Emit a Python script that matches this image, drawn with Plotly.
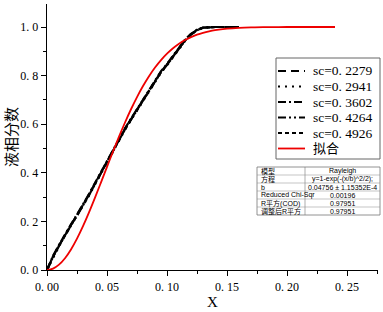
import plotly.graph_objects as go

# ---------------- data ----------------
x_black = [0, 0.005, 0.01, 0.015, 0.02, 0.025, 0.03, 0.035, 0.04, 0.045, 0.05, 0.055, 0.06,
           0.065, 0.07, 0.075, 0.08, 0.085, 0.09, 0.095, 0.10, 0.105, 0.11, 0.115, 0.12,
           0.125, 0.13, 0.135, 0.14, 0.15, 0.16]
y_sc_2279 = [0, 0.055, 0.100, 0.145, 0.185, 0.225, 0.265, 0.310, 0.355, 0.400, 0.445, 0.495, 0.540,
             0.580, 0.620, 0.660, 0.700, 0.740, 0.780, 0.815, 0.845, 0.880, 0.915, 0.945, 0.970,
             0.988, 0.997, 1.000, 1.000, 1.000, 1.000]
y_sc_2941 = [0, 0.052, 0.097, 0.142, 0.182, 0.222, 0.262, 0.306, 0.352, 0.397, 0.442, 0.491, 0.536,
             0.577, 0.617, 0.657, 0.697, 0.737, 0.777, 0.812, 0.842, 0.877, 0.912, 0.942, 0.968,
             0.986, 0.996, 1.000, 1.000, 1.000, 1.000]
y_sc_3602 = [0, 0.058, 0.103, 0.148, 0.188, 0.228, 0.268, 0.313, 0.358, 0.403, 0.448, 0.498, 0.543,
             0.583, 0.623, 0.663, 0.703, 0.743, 0.783, 0.818, 0.848, 0.883, 0.918, 0.948, 0.972,
             0.989, 0.998, 1.000, 1.000, 1.000, 1.000]
y_sc_4264 = [0, 0.054, 0.099, 0.144, 0.184, 0.224, 0.264, 0.308, 0.354, 0.399, 0.444, 0.493, 0.538,
             0.579, 0.619, 0.659, 0.699, 0.739, 0.779, 0.814, 0.844, 0.879, 0.914, 0.944, 0.969,
             0.987, 0.997, 1.000, 1.000, 1.000, 1.000]
y_sc_4926 = [0, 0.056, 0.101, 0.146, 0.186, 0.226, 0.266, 0.311, 0.356, 0.401, 0.446, 0.496, 0.541,
             0.581, 0.621, 0.661, 0.701, 0.741, 0.781, 0.816, 0.846, 0.881, 0.916, 0.946, 0.971,
             0.988, 0.997, 1.000, 1.000, 1.000, 1.000]

x_fit = [0, 0.005, 0.01, 0.015, 0.02, 0.025, 0.03, 0.035, 0.04, 0.045, 0.05, 0.055, 0.06, 0.065,
         0.07, 0.075, 0.08, 0.085, 0.09, 0.095, 0.10, 0.105, 0.11, 0.115, 0.12, 0.125, 0.13,
         0.135, 0.14, 0.15, 0.16, 0.17, 0.18, 0.20, 0.22, 0.24]
y_fit = [0, 0.0055, 0.0219, 0.0485, 0.0846, 0.1290, 0.1804, 0.2372, 0.2979, 0.3609, 0.4245,
         0.4876, 0.5488, 0.6070, 0.6615, 0.7116, 0.7570, 0.7975, 0.8331, 0.8640, 0.8903,
         0.9126, 0.9311, 0.9463, 0.9585, 0.9684, 0.9761, 0.9822, 0.9869, 0.9931, 0.9965,
         0.9983, 0.9992, 0.9999, 1.0, 1.0]

series_names = ["sc=0. 2279", "sc=0. 2941", "sc=0. 3602", "sc=0. 4264", "sc=0. 4926"]
fit_name = "拟合"

x_tickvals = [0, 0.05, 0.10, 0.15, 0.20, 0.25]
x_ticktext = ["0. 00", "0. 05", "0. 10", "0. 15", "0. 20", "0. 25"]
y_tickvals = [0, 0.2, 0.4, 0.6, 0.8, 1.0]
y_ticktext = ["0. 0", "0. 2", "0. 4", "0. 6", "0. 8", "1. 0"]

table_labels = ["模型", "方程", "b", "Reduced Chi-Sqr", "R平方(COD)", "调整后R平方"]
table_values = ["Rayleigh", "y=1-exp(-(x/b)^2/2);", "0.04756 ± 1.15352E-4",
                "0.00196", "0.97951", "0.97951"]

x_title = "X"
y_title = "液相分数"

# ---------------- figure ----------------
W, H = 383, 312
ML, MR, MT, MB = 47, 5, 4, 42
PW, PH = W - ML - MR, H - MT - MB

def px(xp):
    return (xp - ML) / PW

def py(yp):
    return (H - MB - yp) / PH

serif = "Liberation Serif, Noto Sans CJK SC, serif"

fig = go.Figure()
dashes = ["8px,5px", "2px,5px", "8px,3px,2px,3px", "8px,3px,2px,3px,2px,3px", "4px,3px"]
all_y = [y_sc_2279, y_sc_2941, y_sc_3602, y_sc_4264, y_sc_4926]
for name, ys, d in zip(series_names, all_y, dashes):
    fig.add_trace(go.Scatter(x=x_black, y=ys, mode="lines", name=name, showlegend=False,
                             line=dict(color="black", width=2.2, dash=d)))
fig.add_trace(go.Scatter(x=x_fit, y=y_fit, mode="lines", name=fit_name, showlegend=False,
                         line=dict(color="#ee0000", width=1.8, shape="spline")))

axis_common = dict(showline=True, linecolor="black", linewidth=1.3, ticks="outside",
                   ticklen=5, tickwidth=1, tickcolor="black", showgrid=False, zeroline=False,
                   automargin=False,
                   tickfont=dict(family=serif, size=12, color="black"))

fig.update_xaxes(range=[0, 0.2758], tickvals=x_tickvals, ticktext=x_ticktext,
                 minor=dict(dtick=0.025, ticks="outside", ticklen=3, tickcolor="black"),
                 title=dict(text=x_title, font=dict(family=serif, size=15, color="black"), standoff=2),
                 **axis_common)
fig.update_yaxes(range=[0, 266 / 243], tickvals=y_tickvals, ticktext=y_ticktext,
                 minor=dict(dtick=0.1, ticks="outside", ticklen=3, tickcolor="black"),
                 title=dict(text=y_title, font=dict(family="Noto Sans CJK SC", size=15, color="black"),
                            standoff=4),
                 **axis_common)

shapes = []
annotations = []

# legend (drawn manually to match the compact row spacing)
lg_l, lg_r, lg_t, lg_b = 276, 380, 58, 159
shapes.append(dict(type="rect", xref="paper", yref="paper", x0=px(lg_l), x1=px(lg_r),
                   y0=py(lg_t), y1=py(lg_b), line=dict(color="#666", width=1),
                   fillcolor="white", layer="above"))
leg_names = series_names + [fit_name]
leg_colors = ["black"] * 5 + ["#ee0000"]
leg_dash = dashes + ["solid"]
leg_width = [2.2] * 5 + [1.8]
for i, (nm, c, d, w) in enumerate(zip(leg_names, leg_colors, leg_dash, leg_width)):
    yc = lg_t + 13 + i * 15.5
    shapes.append(dict(type="line", xref="paper", yref="paper", x0=px(278), x1=px(305),
                       y0=py(yc), y1=py(yc), line=dict(color=c, width=w, dash=d), layer="above"))
    annotations.append(dict(xref="paper", yref="paper", x=px(311), y=py(yc), text=nm,
                            xanchor="left", yanchor="middle", showarrow=False,
                            font=dict(family=serif, size=13.5 if i < 5 else 13, color="black")))

# table
tl, tr, td, tt, rh = 257, 380, 305, 167, 8
nrows = len(table_labels)
shapes.append(dict(type="rect", xref="paper", yref="paper", x0=px(tl), x1=px(tr),
                   y0=py(tt), y1=py(tt + nrows * rh), line=dict(color="#777", width=0.8),
                   fillcolor="white", layer="above"))
shapes.append(dict(type="line", xref="paper", yref="paper", x0=px(td), x1=px(td),
                   y0=py(tt), y1=py(tt + nrows * rh), line=dict(color="#777", width=0.6),
                   layer="above"))
for i in range(1, nrows):
    shapes.append(dict(type="line", xref="paper", yref="paper", x0=px(tl), x1=px(tr),
                       y0=py(tt + i * rh), y1=py(tt + i * rh), line=dict(color="#888", width=0.5),
                       layer="above"))
for i, (lab, val) in enumerate(zip(table_labels, table_values)):
    yc = py(tt + i * rh + rh / 2)
    annotations.append(dict(xref="paper", yref="paper", x=px(tl + 1.5), y=yc, text=lab,
                            xanchor="left", yanchor="middle", showarrow=False,
                            font=dict(family="Liberation Sans, Noto Sans CJK SC", size=7, color="black")))
    annotations.append(dict(xref="paper", yref="paper", x=px((td + tr) / 2), y=yc, text=val,
                            xanchor="center", yanchor="middle", showarrow=False,
                            font=dict(family="Liberation Sans, Noto Sans CJK SC", size=7, color="black")))

fig.update_layout(
    width=W, height=H, margin=dict(l=ML, r=MR, t=MT, b=MB, autoexpand=False),
    paper_bgcolor="white", plot_bgcolor="white",
    shapes=shapes, annotations=annotations, showlegend=False,
)

fig.write_html("out.html", config={"displayModeBar": False, "staticPlot": True},
               post_script="document.body.style.margin='0';document.body.style.overflow='hidden';")
